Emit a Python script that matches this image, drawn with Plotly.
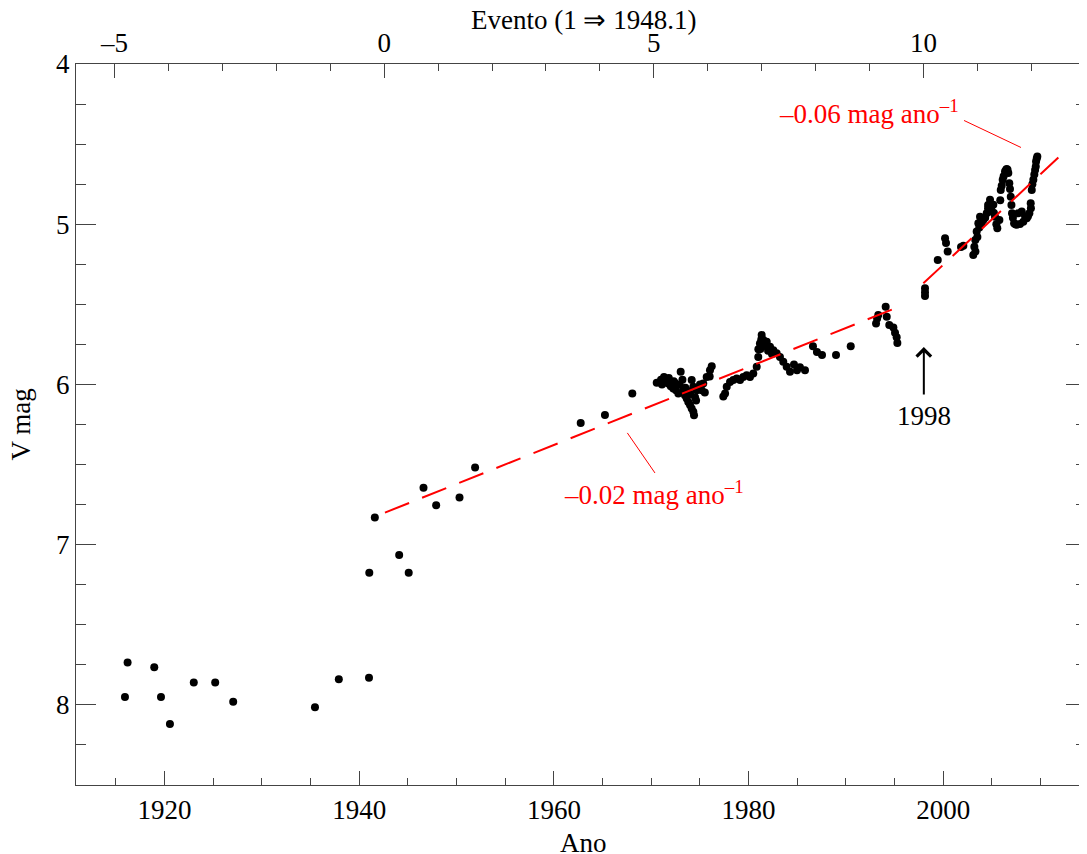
import plotly.graph_objects as go

# ---------------- data ----------------
# V magnitude estimates vs. year
years = [
    1915.93, 1916.20, 1918.94, 1919.63, 1920.55, 1923.00, 1925.20, 1927.05,
    1935.45, 1937.90, 1941.00,
    1941.03, 1941.60, 1944.10, 1945.08, 1946.60, 1947.90, 1950.30, 1951.90,
    1962.75, 1965.24, 1968.05, 1970.56,
    1971.31, 1971.51, 1971.75, 1972.00, 1972.26, 1972.54, 1972.78, 1973.02,
    1973.29, 1973.46, 1973.64, 1973.80, 1973.98, 1974.15, 1974.32, 1974.39,
    1974.15, 1974.32, 1974.67, 1975.18, 1975.34, 1975.69, 1976.03, 1976.21,
    1971.10, 1972.40, 1973.50, 1974.50,
    1971.00, 1971.80, 1972.30, 1972.90, 1973.20, 1973.70, 1974.00, 1974.60,
    1975.00, 1975.50, 1976.00,
    1977.40, 1977.58, 1977.75, 1978.09, 1978.43, 1978.78, 1979.12, 1979.45,
    1979.80, 1980.14, 1980.48, 1980.83, 1980.99, 1981.16, 1981.34, 1981.51,
    1981.86, 1982.20, 1982.54, 1982.88, 1983.22, 1983.56, 1983.91,
    1981.20, 1981.60, 1982.00, 1982.40,
    1981.00, 1981.30, 1981.70, 1982.10,
    1984.25, 1984.66, 1984.97, 1985.27, 1985.79,
    1986.61, 1987.02, 1987.54, 1988.98, 1990.49,
    1993.09, 1993.20, 1993.32, 1994.08, 1994.19, 1994.45, 1994.87, 1995.04,
    1995.21, 1995.28,
    1998.12, 1998.12, 1998.12,
    1999.43, 2000.18, 2000.28, 2000.45, 2001.82, 2002.06,
    2003.08, 2003.19, 2003.29, 2003.43, 2003.60, 2003.77, 2004.11, 2004.46,
    2004.80, 2005.14, 2005.31, 2005.55, 2005.76, 2005.90, 2006.10, 2006.34,
    2006.52, 2006.68, 2006.78, 2006.93, 2007.06, 2007.27, 2007.54, 2007.88,
    2008.22, 2008.57, 2008.84, 2008.98, 2009.09, 2009.25, 2009.43, 2009.53,
    2009.66,
    2003.90, 2004.30, 2004.60, 2005.00, 2007.71, 2008.06, 2008.40,
    2003.30, 2003.50, 2003.70, 2004.00, 2004.60, 2004.90, 2005.20, 2005.45,
    2005.85, 2006.00, 2006.20, 2006.45, 2006.60, 2006.85, 2007.00, 2007.15,
    2007.40, 2008.70, 2009.00, 2009.15, 2009.35, 2009.50, 2009.60,
]
vmag = [
    7.950, 7.736, 7.765, 7.950, 8.120, 7.860, 7.860, 7.980,
    8.015, 7.840, 7.830,
    7.175, 6.830, 7.065, 7.175, 6.644, 6.754, 6.706, 6.519,
    6.240, 6.190, 6.056, 5.990,
    5.953, 5.973, 5.994, 6.011, 6.025, 6.036, 6.056, 5.921,
    6.036, 6.067, 6.088, 6.109, 6.129, 6.150, 6.171, 6.192,
    5.973, 6.015, 6.036, 6.036, 5.994, 5.953, 5.911, 5.886,
    6.000, 5.990, 6.020, 6.080,
    5.970, 5.960, 5.980, 6.000, 5.970, 6.040, 6.060, 6.100,
    6.000, 6.050, 5.950,
    6.075, 6.056, 6.015, 5.984, 5.973, 5.963, 5.973, 5.953,
    5.942, 5.953, 5.931, 5.890, 5.828, 5.744, 5.692, 5.723,
    5.734, 5.765, 5.786, 5.806, 5.828, 5.859, 5.890,
    5.780, 5.760, 5.790, 5.810,
    5.780, 5.720, 5.740, 5.770,
    5.920, 5.876, 5.911, 5.892, 5.911,
    5.761, 5.798, 5.817, 5.817, 5.761,
    5.620, 5.588, 5.567, 5.515, 5.578, 5.629, 5.644, 5.678,
    5.706, 5.742,
    5.400, 5.425, 5.448,
    5.223, 5.088, 5.117, 5.171, 5.142, 5.134,
    5.192, 5.140, 5.098, 5.046, 4.994, 4.953, 4.973, 4.931,
    4.848, 4.879, 4.953, 5.025, 4.973, 4.786, 4.723, 4.671,
    4.656, 4.681, 4.744, 4.828, 4.931, 4.994, 5.004, 4.998,
    4.984, 4.963, 4.931, 4.869, 4.786, 4.723, 4.661, 4.609,
    4.578,
    5.000, 4.960, 4.900, 4.920, 4.931, 4.920, 4.950,
    5.170, 5.080, 5.020, 4.980, 4.880, 4.900, 4.930, 5.000,
    4.850, 4.760, 4.700, 4.660, 4.660, 4.780, 4.880, 4.960,
    5.000, 4.950, 4.900, 4.750, 4.690, 4.640, 4.590,
]

# linear trends (start / end)
fit1_years = [1942.64, 1995.86]
fit1_mag = [6.800, 5.505]
fit2_years = [1997.95, 2011.82]
fit2_mag = [5.369, 4.584]

# event (periastron) numbering: event 1 = 1948.1, period 5.54 yr
event_ref_year = 1948.1
event_period = 5.54
event_ticks = [-5, 0, 5, 10]
event_ticktext = ["\u20135", "0", "5", "10"]

year_ticks = [1920, 1940, 1960, 1980, 2000]
mag_ticks = [4, 5, 6, 7, 8]

year_range = [1910.9, 2014.66]
mag_range = [8.5, 4.0]

# annotation geometry
label06_pos = (1992.37, 4.30)
label02_pos = (1970.23, 6.68)
leader06 = ((2002.13, 4.3525), (2007.98, 4.521))
leader02 = ((1967.54, 6.3025), (1970.38, 6.5525))
arrow_1998 = (1998.0, 5.767)


def to_event(y):
    return 1 + (y - event_ref_year) / event_period


FONT = "Liberation Serif, Times New Roman, serif"
AX = "#444444"
RED = "#ff0000"
FS = 27

fig = go.Figure()

fig.add_trace(go.Scatter(
    x=years, y=vmag, mode="markers",
    marker=dict(color="black", size=8, line=dict(width=0)),
    showlegend=False, hoverinfo="x+y"))

for fx, fy in ((fit1_years, fit1_mag), (fit2_years, fit2_mag)):
    fig.add_trace(go.Scatter(
        x=fx, y=fy, mode="lines",
        line=dict(color=RED, width=2, dash="26px,14px"),
        showlegend=False, hoverinfo="skip"))

# invisible trace carrying the secondary (top / right) axes
fig.add_trace(go.Scatter(
    x=[to_event(1950)], y=[6], xaxis="x2", yaxis="y2", mode="markers",
    marker=dict(opacity=0), showlegend=False, hoverinfo="skip"))

common = dict(showline=True, linecolor=AX, linewidth=1.3, showgrid=False,
              zeroline=False, ticks="inside", tickcolor=AX, tickwidth=1.3,
              automargin=False,
              tickfont=dict(family=FONT, size=FS, color="black"))

# the page body adds an 8 px offset, so the figure is 8 px smaller
fig.update_layout(
    width=1079, height=846,
    margin=dict(l=68, r=1, t=56, b=69),
    paper_bgcolor="white", plot_bgcolor="white",
    font=dict(family=FONT, size=FS, color="black"),
    xaxis=dict(range=year_range, tickmode="array", tickvals=year_ticks,
               ticklen=14,
               minor=dict(ticks="inside", ticklen=7, dtick=5, tick0=1910,
                          tickcolor=AX, tickwidth=1.3),
               **common),
    xaxis2=dict(range=[to_event(year_range[0]), to_event(year_range[1])],
                overlaying="x", side="top", anchor="y2",
                tickmode="array", tickvals=event_ticks,
                ticktext=event_ticktext, ticklen=14,
                minor=dict(ticks="inside", ticklen=7, dtick=1, tick0=0,
                           tickcolor=AX, tickwidth=1.3),
                **common),
    yaxis=dict(range=mag_range, tickmode="array", tickvals=mag_ticks,
               ticklen=20,
               minor=dict(ticks="inside", ticklen=10, dtick=0.25, tick0=4,
                          tickcolor=AX, tickwidth=1.3),
               **common),
    yaxis2=dict(range=mag_range, overlaying="y", side="right", anchor="x2",
                tickmode="array", tickvals=mag_ticks, ticklen=20,
                showticklabels=False,
                minor=dict(ticks="inside", ticklen=10, dtick=0.25, tick0=4,
                           tickcolor=AX, tickwidth=1.3),
                **common),
)

# axis titles placed as paper annotations
title_font = dict(family=FONT, size=FS, color="black")
fig.add_annotation(text="Ano", xref="paper", yref="paper", x=0.502, y=0,
                   xanchor="center", yanchor="middle", yshift=-58,
                   showarrow=False, font=title_font)
fig.add_annotation(text="Evento (1 \u21d2 1948.1)", xref="paper",
                   yref="paper", x=0.502, y=1, xanchor="center",
                   yanchor="middle", yshift=44, showarrow=False,
                   font=title_font)
fig.add_annotation(text="V mag", xref="paper", yref="paper", x=0, y=0.5,
                   xanchor="center", yanchor="middle", xshift=-56,
                   textangle=-90, showarrow=False, font=title_font)

for (x0, y0), (x1, y1) in (leader06, leader02):
    fig.add_shape(type="line", x0=x0, y0=y0, x1=x1, y1=y1,
                  xref="x", yref="y", line=dict(color=RED, width=1))

fig.add_annotation(x=label06_pos[0], y=label06_pos[1], xref="x", yref="y",
                   text="\u20130.06 mag ano<sup>\u20131</sup>", showarrow=False,
                   font=dict(family=FONT, size=FS, color=RED),
                   xanchor="center", yanchor="middle")
fig.add_annotation(x=label02_pos[0], y=label02_pos[1], xref="x", yref="y",
                   text="\u20130.02 mag ano<sup>\u20131</sup>", showarrow=False,
                   font=dict(family=FONT, size=FS, color=RED),
                   xanchor="center", yanchor="middle")
fig.add_annotation(x=arrow_1998[0], y=arrow_1998[1], xref="x", yref="y",
                   text="1998", showarrow=True, arrowhead=4, arrowsize=1.4,
                   arrowwidth=2, arrowcolor="black", ax=0, ay=69,
                   font=dict(family=FONT, size=FS, color="black"),
                   borderpad=6)

fig.write_html("out.html")
